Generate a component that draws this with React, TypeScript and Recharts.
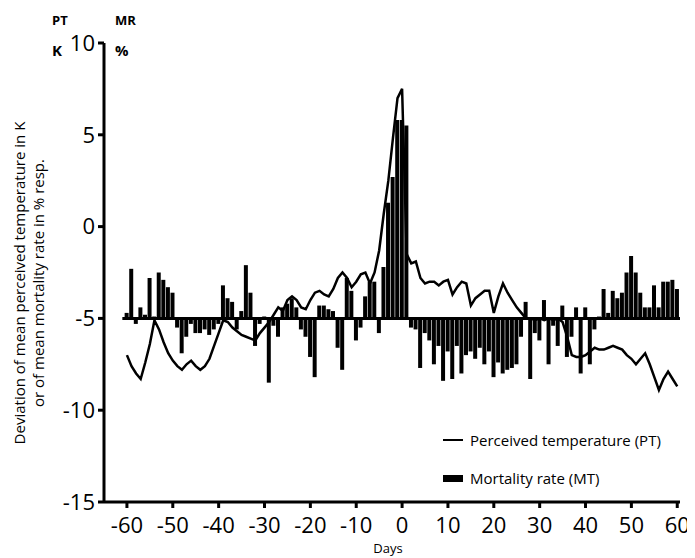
import {
  ComposedChart,
  Bar,
  Line,
  XAxis,
  YAxis,
  ReferenceLine,
} from "recharts";

// days relative to the heat event
const days = Array.from({ length: 121 }, (_, i) => i - 60);

// perceived temperature deviation (K), day -60 .. 60
const ptValues = [
  -7.0, -7.6, -8.0, -8.3, -7.4, -6.4, -5.1, -5.6, -6.3, -6.9,
  -7.3, -7.6, -7.8, -7.5, -7.3, -7.6, -7.8, -7.6, -7.2, -6.5,
  -5.8, -5.1, -5.2, -5.5, -5.7, -5.9, -6.0, -6.1, -6.2, -5.8,
  -5.5, -5.2, -4.8, -4.4, -4.6, -4.0, -3.8, -4.0, -4.4, -4.5,
  -4.0, -3.6, -3.5, -3.7, -3.8, -3.4, -2.8, -2.5, -2.8, -3.3,
  -3.0, -2.6, -2.5, -3.1, -2.5, -1.3, 0.7, 2.5, 4.8, 7.0,
  7.5,
  -1.5, -2.0, -1.9, -2.8, -3.1, -3.0, -3.0, -3.2, -3.0, -2.9,
  -3.7, -3.3, -3.0, -3.1, -4.3, -3.9, -3.7, -3.5, -3.5, -4.7,
  -3.8, -3.1, -3.6, -4.0, -4.4, -4.7, -5.0, -5.0, -5.1, -5.0,
  -5.1, -5.0, -5.1, -5.0, -5.2, -6.0, -7.0, -7.1, -7.1, -7.0,
  -6.8, -6.6, -6.7, -6.7, -6.6, -6.5, -6.6, -6.7, -7.0, -7.2,
  -7.5, -7.2, -6.9, -7.5, -8.2, -8.9, -8.3, -7.9, -8.3, -8.7,
];

// mortality rate deviation (%), drawn from the MR zero line
const mrValues = [
  0.3, 2.7, -0.3, 0.6, 0.2, 2.2, 0.1, 2.5, 2.1, 1.7,
  1.4, -0.5, -1.9, -1.0, -0.3, -0.8, -0.8, -0.6, -0.9, -0.6,
  -0.3, 1.8, 1.1, 0.9, -0.6, 0.4, 2.9, 1.4, -1.5, -0.3,
  0.1, -3.5, -0.4, -1.0, 0.6, 0.8, 1.1, 0.6, -0.6, -1.0,
  -2.1, -3.2, 0.7, 0.7, 0.5, 0.4, -1.6, -2.8, 2.2, 1.5,
  -1.2, -0.5, 1.2, 2.0, 2.0, -0.8, 2.8, 6.3, 7.7, 10.8,
  10.8,
  10.5, -0.5, -0.6, -2.7, -0.8, -1.2, -2.5, -1.5, -3.4, -1.8,
  -3.3, -1.5, -3.0, -2.0, -1.8, -2.2, -1.6, -2.5, -1.8, -3.2,
  -2.4, -3.0, -2.8, -2.7, -2.5, -1.0, 0.9, -3.3, -0.8, -1.2,
  1.0, -2.5, -0.4, -1.5, 0.7, -2.1, -1.0, 0.6, -3.0, 0.6,
  -2.5, -0.6, 0.1, 1.6, 0.3, 1.5, 1.1, 1.4, 2.5, 3.4,
  2.5, 1.4, 0.6, 0.6, 1.8, 0.6, 2.0, 2.0, 2.1, 1.6,
];

const MR_ZERO = -5;
const xTicks = [-60, -50, -40, -30, -20, -10, 0, 10, 20, 30, 40, 50, 60];
const yTicks = [-15, -10, -5, 0, 5, 10];

const data = days.map((day, i) => ({ day, pt: ptValues[i], mr: mrValues[i] }));

const font = "'Open Sans', sans-serif";

function YLabel() {
  return (
    <text
      transform="translate(17, 275) rotate(-90)"
      textAnchor="middle"
      fontFamily={font}
      fontSize={15}
      fill="#000"
    >
      <tspan x={0} dy={0}>Deviation of mean perceived temperature in K</tspan>
      <tspan x={0} dy={19}>or of mean mortality rate in % resp.</tspan>
    </text>
  );
}

export default function App() {
  return (
    <div style={{ position: "relative", width: 687, height: 550, fontFamily: font }}>
      <ComposedChart
        width={687}
        height={550}
        data={data}
        margin={{ top: 35, right: 15, bottom: 0, left: 0 }}
      >
        <XAxis
          dataKey="day"
          type="number"
          domain={[-65, 60.6]}
          ticks={xTicks}
          allowDataOverflow
          height={56}
          stroke="#000"
          strokeWidth={3}
          tickSize={6}
          tickMargin={9}
          tick={{ fill: "#000", fontSize: 22, fontFamily: font }}
          label={{ value: "Days", position: "insideBottom", offset: 5, dx: -4, fill: "#000", fontSize: 13, fontFamily: font }}
        />
        <YAxis
          type="number"
          domain={[-15, 10]}
          ticks={yTicks}
          width={96}
          stroke="#000"
          strokeWidth={3}
          tickSize={6}
          tickMargin={3}
          tick={{ fill: "#000", fontSize: 22, fontFamily: font }}
          label={<YLabel />}
        />
        <ReferenceLine
          segment={[{ x: -61, y: MR_ZERO }, { x: 60.6, y: MR_ZERO }]}
          stroke="#000"
          strokeWidth={3}
        />
        <Bar
          dataKey={(d) => [Math.min(MR_ZERO, MR_ZERO + d.mr), Math.max(MR_ZERO, MR_ZERO + d.mr)]}
          fill="#000"
          barSize={4}
          isAnimationActive={false}
        />
        <Line
          type="linear"
          dataKey="pt"
          stroke="#000"
          strokeWidth={2.5}
          dot={false}
          isAnimationActive={false}
        />
      </ComposedChart>

      <div style={{ position: "absolute", left: 44, top: 3, fontSize: 13, fontWeight: 700 }}>PT</div>
      <div style={{ position: "absolute", left: 107, top: 3, fontSize: 13, fontWeight: 700 }}>MR</div>
      <div style={{ position: "absolute", left: 44, top: 32, fontSize: 15, fontWeight: 700 }}>K</div>
      <div style={{ position: "absolute", left: 107, top: 32, fontSize: 15, fontWeight: 700 }}>%</div>

      <div style={{ position: "absolute", left: 435, top: 422, fontSize: 15, lineHeight: "20px" }}>
        <div style={{ display: "flex", alignItems: "center", height: 20 }}>
          <span style={{ display: "inline-block", width: 20, height: 2, background: "#000", marginRight: 7 }} />
          <span>Perceived temperature (PT)</span>
        </div>
        <div style={{ display: "flex", alignItems: "center", height: 20, marginTop: 18 }}>
          <span style={{ display: "inline-block", width: 20, height: 7, background: "#000", marginRight: 7 }} />
          <span>Mortality rate (MT)</span>
        </div>
      </div>
    </div>
  );
}
